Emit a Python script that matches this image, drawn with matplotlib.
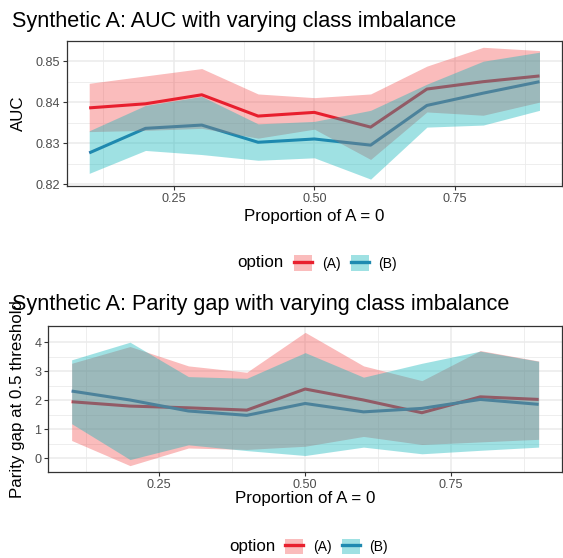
import matplotlib
matplotlib.use("Agg")
import matplotlib.pyplot as plt
from matplotlib.patches import Patch
from matplotlib.lines import Line2D
import numpy as np

plt.rcParams["font.family"] = ["Liberation Sans", "DejaVu Sans"]

# proportion of A = 0
prop = [0.1, 0.2, 0.3, 0.4, 0.5, 0.6, 0.7, 0.8, 0.9]

# AUC, option (A) / (B): mean and band
auc_a = [0.8386, 0.8396, 0.8418, 0.8366, 0.8375, 0.8339, 0.8432, 0.8450, 0.8464]
auc_a_lo = [0.8328, 0.8331, 0.8336, 0.8312, 0.8334, 0.8260, 0.8376, 0.8368, 0.8400]
auc_a_hi = [0.8446, 0.8464, 0.8482, 0.8420, 0.8411, 0.8420, 0.8488, 0.8534, 0.8526]
auc_b = [0.8276, 0.8336, 0.8344, 0.8302, 0.8310, 0.8295, 0.8392, 0.8422, 0.8450]
auc_b_lo = [0.8226, 0.8282, 0.8272, 0.8258, 0.8264, 0.8212, 0.8339, 0.8344, 0.8380]
auc_b_hi = [0.8330, 0.8392, 0.8414, 0.8347, 0.8353, 0.8380, 0.8444, 0.8500, 0.8522]

# parity gap at 0.5 threshold
gap_a = [1.95, 1.80, 1.74, 1.66, 2.39, 2.01, 1.57, 2.12, 2.03]
gap_a_lo = [0.61, -0.26, 0.35, 0.30, 0.41, 0.75, 0.47, 0.56, 0.65]
gap_a_hi = [3.28, 3.86, 3.19, 2.97, 4.35, 3.19, 2.68, 3.72, 3.36]
gap_b = [2.32, 2.01, 1.63, 1.48, 1.89, 1.60, 1.72, 2.03, 1.86]
gap_b_lo = [1.19, -0.05, 0.46, 0.26, 0.09, 0.38, 0.15, 0.27, 0.38]
gap_b_hi = [3.40, 4.01, 2.82, 2.76, 3.65, 2.80, 3.28, 3.70, 3.35]

options = ["(A)", "(B)"]
line_cols = ["#E2031A", "#286CA8"]      # lines sit under the ribbons
fill_cols = ["#F24F4F", "#11B6BB"]
fill_alpha = [0.38, 0.40]
key_line_cols = ["#E8202E", "#1F8AB0"]  # how the lines look through their own ribbon

W, H = 563, 558


def px_rect(left, top, right, bottom):
    return [left / W, 1 - bottom / H, (right - left) / W, (bottom - top) / H]


def panel(ax, series):
    for i, (mid, lo, hi) in enumerate(series):
        ax.plot(prop, mid, color=line_cols[i], lw=2.2, zorder=3, solid_capstyle="butt")
    for i, (mid, lo, hi) in enumerate(series):
        ax.fill_between(prop, lo, hi, color=fill_cols[i], alpha=fill_alpha[i], lw=0, zorder=4 + i)
    lo_all = min(min(s[1]) for s in series)
    hi_all = max(max(s[2]) for s in series)
    pad = (hi_all - lo_all) * 0.05
    ax.set_ylim(lo_all - pad, hi_all + pad)
    ax.set_xlim(0.06, 0.94)
    ax.set_xticks([0.25, 0.50, 0.75])
    ax.set_xticklabels(["0.25", "0.50", "0.75"])
    ax.set_xticks([0.125, 0.375, 0.625, 0.875], minor=True)
    ax.grid(True, which="major", color="#EBEBEB", lw=1.1, zorder=0)
    ax.grid(True, which="minor", color="#EBEBEB", lw=0.6, zorder=0)
    ax.set_axisbelow(True)
    ax.tick_params(which="major", length=3, width=0.8, color="#333333",
                   labelsize=9.1, labelcolor="#4D4D4D", pad=2)
    ax.tick_params(which="minor", length=0)
    for s in ax.spines.values():
        s.set_color("#333333")
        s.set_linewidth(0.9)


def legend(fig, key_left, y_center):
    handles = [(Patch(facecolor=fill_cols[i], alpha=fill_alpha[i], lw=0),
                Line2D([], [], color=key_line_cols[i], lw=2.4)) for i in range(2)]
    fig.legend(handles, options, ncol=2, loc="center left", frameon=False,
               bbox_to_anchor=(key_left / W, 1 - y_center / H), fontsize=10,
               borderpad=0, borderaxespad=0, handlelength=1.3, handleheight=1.3,
               handletextpad=0.7, columnspacing=0.75)
    fig.text((key_left - 10) / W, 1 - y_center / H, "option", ha="right", va="center",
             fontsize=12.2, color="black")


fig = plt.figure(figsize=(W / 100, H / 100), dpi=100)

ax1 = fig.add_axes(px_rect(66.7, 40.7, 562, 185.7))
panel(ax1, [(auc_a, auc_a_lo, auc_a_hi), (auc_b, auc_b_lo, auc_b_hi)])
ax1.set_yticks([0.82, 0.83, 0.84, 0.85])
ax1.set_yticks([0.825, 0.835, 0.845], minor=True)
fig.text(12 / W, 1 - 27 / H, "Synthetic A: AUC with varying class imbalance",
         fontsize=15.6, va="baseline", ha="left")
fig.text(18.5 / W, 1 - 113 / H, "AUC", rotation=90, ha="center", va="center", fontsize=12.2)
fig.text(314 / W, 1 - 221 / H, "Proportion of A = 0", ha="center", va="baseline", fontsize=12.2)
legend(fig, 294, 263)

ax2 = fig.add_axes(px_rect(48.3, 325.7, 562, 472.3))
panel(ax2, [(gap_a, gap_a_lo, gap_a_hi), (gap_b, gap_b_lo, gap_b_hi)])
ax2.set_yticks([0, 1, 2, 3, 4])
ax2.set_yticks([0.5, 1.5, 2.5, 3.5], minor=True)
fig.text(12 / W, 1 - 310 / H, "Synthetic A: Parity gap with varying class imbalance",
         fontsize=15.6, va="baseline", ha="left")
fig.text(17.5 / W, 1 - 399 / H, "Parity gap at 0.5 threshold", rotation=90,
         ha="center", va="center", fontsize=12.2)
fig.text(305 / W, 1 - 503 / H, "Proportion of A = 0", ha="center", va="baseline", fontsize=12.2)
legend(fig, 285, 546.5)

fig.savefig("out.png", dpi=100)
